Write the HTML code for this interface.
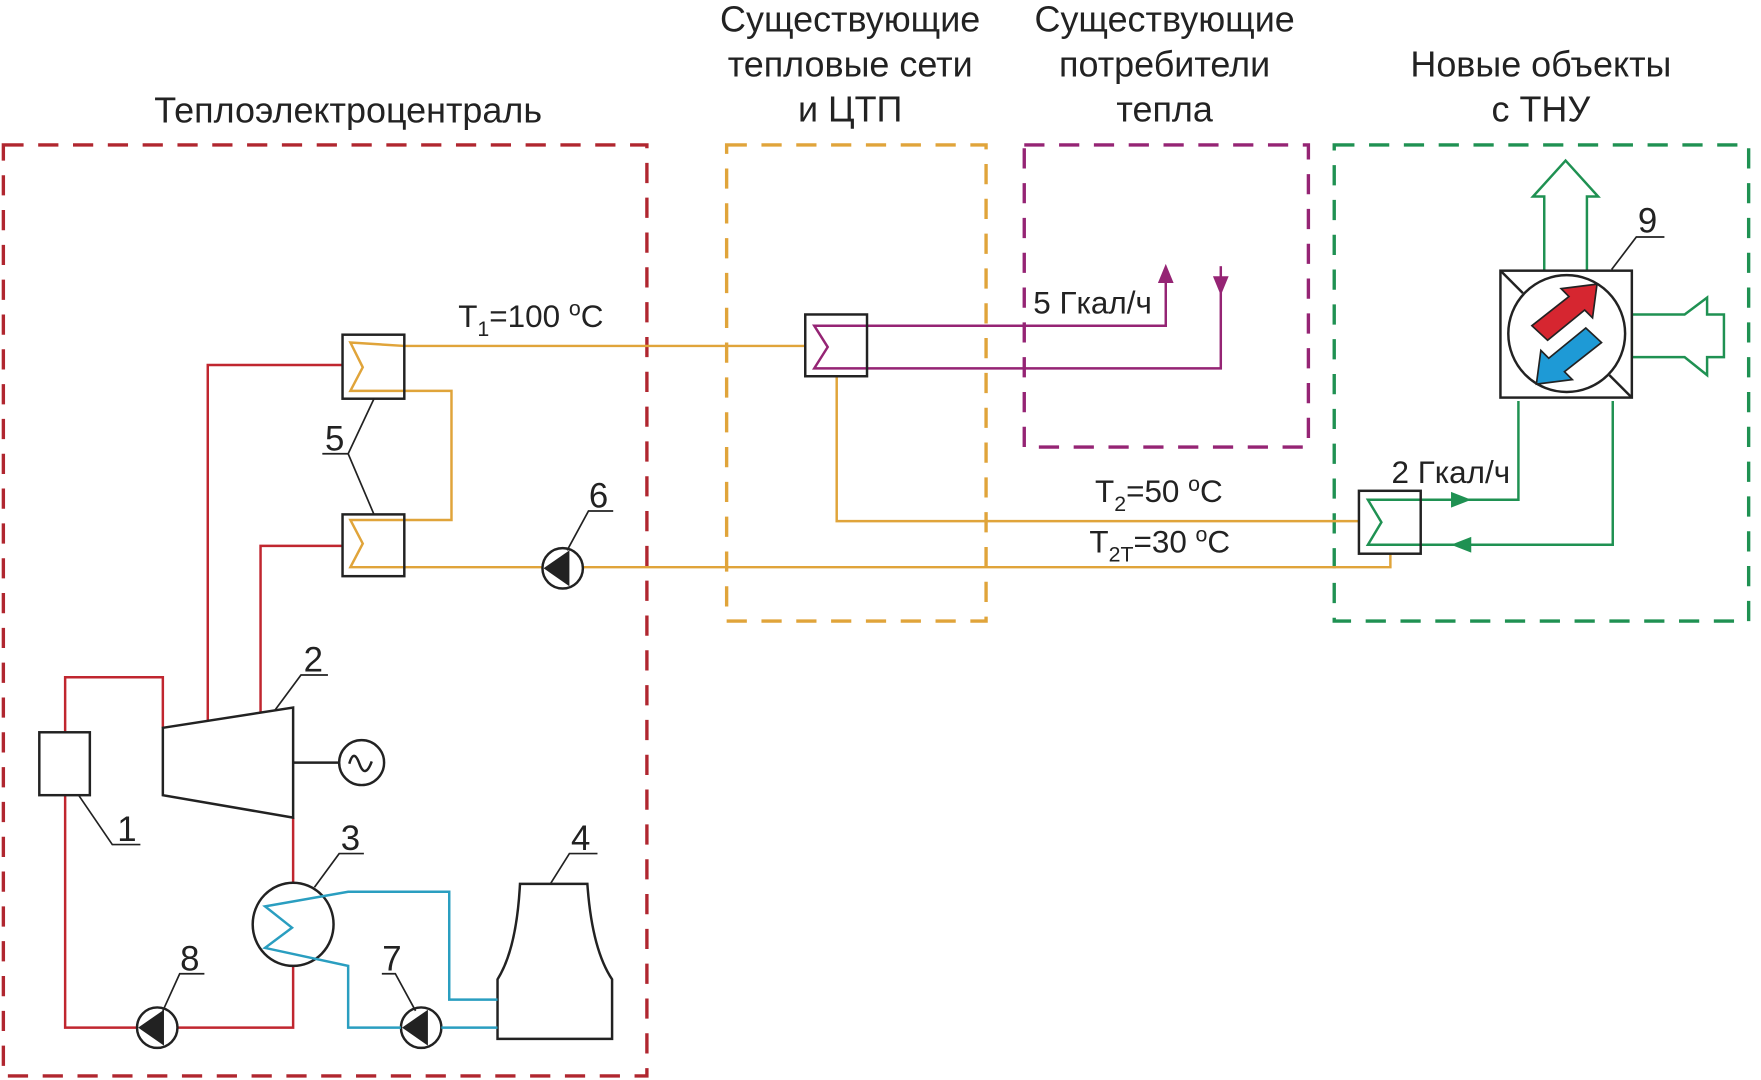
<!DOCTYPE html>
<html><head><meta charset="utf-8"><style>
html,body{margin:0;padding:0;background:#fff;width:1761px;height:1080px;overflow:hidden}
svg{display:block}
text{font-family:"Liberation Sans",sans-serif;fill:#222}
</style></head><body>
<svg width="1761" height="1080" viewBox="0 0 1568 961.6" preserveAspectRatio="none" xmlns="http://www.w3.org/2000/svg">
<g font-size="32" text-anchor="middle">
<text x="310" y="109">Теплоэлектроцентраль</text>
<text x="757" y="28">Существующие</text><text x="757" y="68">тепловые сети</text><text x="757" y="108">и ЦТП</text>
<text x="1037" y="28">Существующие</text><text x="1037" y="68">потребители</text><text x="1037" y="108">тепла</text>
<text x="1372" y="68">Новые объекты</text><text x="1372" y="108">с ТНУ</text>
</g>
<g fill="none" stroke-width="3" stroke-dasharray="18,13">
<rect x="3" y="129" width="573" height="829" stroke="#b0262f"/>
<rect x="647" y="129" width="231" height="424" stroke="#e0a43a"/>
<rect x="912" y="129" width="253" height="269" stroke="#952474"/>
<rect x="1188" y="129" width="369" height="424" stroke="#1f9152"/>
</g>
<g fill="none" stroke="#c0262f" stroke-width="2.2">
<polyline points="305,325 185,325 185,642"/>
<polyline points="305,486 232,486 232,634"/>
<polyline points="58,652 58,603 145,603 145,648"/>
<polyline points="58,708 58,915 261,915 261,860"/>
<line x1="261" y1="728" x2="261" y2="787"/>
</g>
<g fill="none" stroke="#e0a43a" stroke-width="2.2">
<polyline points="717,308 360,308 312,305 323,327 312,348 402,348 402,463 312,463 323,484 312,505 1238,505 1238,493"/>
<polyline points="745,335 745,464 1210,464"/>
</g>
<g fill="none" stroke="#952474" stroke-width="2.2">
<polyline points="1038,250 1038,290 725,290 737,309 725,328 1087,328 1087,255"/>
<line x1="1087" y1="237" x2="1087" y2="250"/>
</g>
<polygon points="1038,235 1031,252 1045,252" fill="#952474"/>
<polygon points="1087,263 1080,246 1094,246" fill="#952474"/>
<g fill="none" stroke="#1f9152" stroke-width="2.2">
<polyline points="1352,357 1352,445 1218,445 1230,465 1218,485 1436,485 1436,357"/>
<polygon points="1375,241 1375,175 1365,175 1394,143 1423,175 1413,175 1413,241"/>
<polygon points="1453,280 1500,280 1520,265 1520,280 1535,280 1535,318 1520,318 1520,334 1500,318 1453,318"/>
</g>
<polygon points="1310,445 1292,438 1292,452" fill="#1f9152"/>
<polygon points="1292,485 1310,478 1310,492" fill="#1f9152"/>
<g fill="none" stroke="#222" stroke-width="2.2">
<rect x="305" y="298" width="55" height="57"/>
<rect x="305" y="458" width="55" height="55"/>
<rect x="717" y="280" width="55" height="55"/>
<rect x="1210" y="437" width="55" height="56"/>
<rect x="35" y="652" width="45" height="56"/>
<polygon points="145,648 261,630 261,728 145,708"/>
<line x1="261" y1="679" x2="302" y2="679"/>
<circle cx="322" cy="679" r="20"/>
<path d="M311,680 q4,-14 9,0 q5,14 11,-2"/>
<path d="M463,787 L523,787 Q527,845 545,872 L545,925 L443,925 L443,872 Q460,845 463,787 Z"/>
<rect x="1336" y="241" width="117" height="113" fill="#fff"/>
<circle cx="1395" cy="297" r="52"/>
<line x1="1336" y1="241" x2="1356" y2="261"/><line x1="1453" y1="354" x2="1433" y2="334"/>
<circle cx="501" cy="506" r="18" fill="#fff"/>
<circle cx="140" cy="915" r="18" fill="#fff"/>
<circle cx="375" cy="915" r="18" fill="#fff"/>
</g>
<g fill="#222">
<polygon points="484,506 507,490 507,522"/>
<polygon points="123,915 146,899 146,931"/>
<polygon points="358,915 381,899 381,931"/>
</g>
<ellipse cx="261" cy="823" rx="36" ry="37" fill="#fff" stroke="#222" stroke-width="2.2"/>
<g fill="none" stroke="#2a9ec0" stroke-width="2.2">
<polyline points="443,890 400,890 400,794 310,794 236,807 260,826 236,844 310,860 310,915 357,915"/>
<line x1="393" y1="915" x2="443" y2="915"/>
</g>
<polygon points="1364,290 1397,264 1390,257 1422,253 1418,283 1411,276 1378,303" fill="#d62630" stroke="#222" stroke-width="1.5"/>
<polygon points="1426,305 1393,331 1400,338 1368,342 1372,312 1379,319 1412,292" fill="#1e9ad6" stroke="#222" stroke-width="1.5"/>
<g fill="none" stroke="#222" stroke-width="1.5">
<polyline points="70,708 100,752 125,752"/>
<polyline points="245,632 268,601 292,601"/>
<polyline points="280,790 302,760 324,760"/>
<polyline points="490,787 507,760 532,760"/>
<polyline points="333,355 310,404 287,404"/><line x1="310" y1="404" x2="333" y2="458"/>
<polyline points="505,490 524,455 546,455"/>
<polyline points="370,900 352,867 340,867"/>
<polyline points="145,900 160,867 182,867"/>
<polyline points="1435,240 1457,211 1482,211"/>
</g>
<g font-size="31" text-anchor="middle">
<text x="113" y="749">1</text><text x="279" y="598">2</text><text x="312" y="757">3</text><text x="517" y="757">4</text>
<text x="298" y="401">5</text><text x="533" y="452">6</text><text x="349" y="864">7</text><text x="169" y="864">8</text><text x="1467" y="207">9</text>
</g>
<g font-size="28">
<text x="408" y="291">T<tspan font-size="19" dy="8">1</tspan><tspan dy="-8">=100 </tspan><tspan font-size="19" dy="-10">o</tspan><tspan dy="10">C</tspan></text>
<text x="920" y="279">5 Гкал/ч</text>
<text x="975" y="447">T<tspan font-size="19" dy="8">2</tspan><tspan dy="-8">=50 </tspan><tspan font-size="19" dy="-10">o</tspan><tspan dy="10">C</tspan></text>
<text x="970" y="492">T<tspan font-size="19" dy="8">2T</tspan><tspan dy="-8">=30 </tspan><tspan font-size="19" dy="-10">o</tspan><tspan dy="10">C</tspan></text>
<text x="1239" y="430">2 Гкал/ч</text>
</g>
</svg>
</body></html>
